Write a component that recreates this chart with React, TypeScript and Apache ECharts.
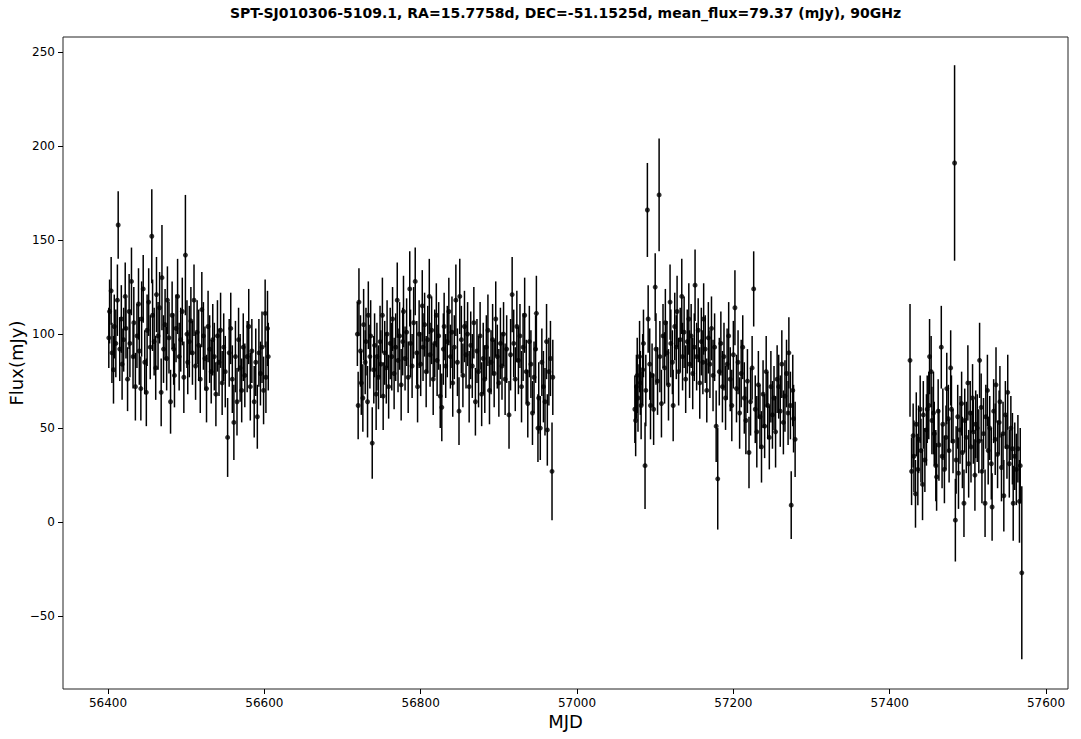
import React, { useEffect, useRef } from "react";
import * as echarts from "echarts";

// Season 1
const s1Mjd = [56401,56402,56404,56405,56407,56408,56410,56412,56413,56415,56417,56418,56420,56422,56423,56425,56427,56428,56430,56432,56433,56435,56437,56439,56440,56442,56443,56445,56447,56449,56450,56452,56454,56456,56457,56459,56461,56462,56464,56466,56468,56469,56471,56473,56475,56476,56478,56480,56482,56484,56485,56487,56489,56491,56493,56495,56497,56499,56501,56502,56504,56506,56508,56510,56512,56514,56516,56518,56520,56522,56524,56526,56528,56530,56532,56534,56536,56538,56540,56542,56544,56546,56548,56550,56553,56555,56557,56559,56561,56563,56565,56567,56569,56571,56573,56575,56578,56580,56582,56584,56587,56589,56591,56593,56595,56597,56599,56601,56602,56604,56605];
const s1Flux = [98,112,123,90,81,104,95,118,158,92,108,84,97,120,103,76,112,95,128,88,106,72,99,116,91,71,108,124,85,69,102,117,93,152,110,96,82,121,99,114,69,130,92,105,87,118,98,64,110,92,78,103,120,88,97,112,77,142,100,85,96,107,90,118,83,101,94,76,113,99,87,71,104,92,80,97,88,68,99,85,102,74,93,80,45,90,103,76,53,88,64,97,82,70,93,78,88,104,72,91,64,85,56,90,79,93,70,111,77,103,88];
const s1Err = [16,17,18,16,18,17,18,19,18,17,18,19,17,18,16,17,20,18,18,17,19,18,17,19,18,17,20,18,17,18,19,18,17,25,19,18,17,20,18,19,18,28,18,19,17,18,19,17,18,19,17,18,20,18,17,18,19,32,18,17,19,18,17,19,18,17,19,18,20,18,17,18,19,18,17,19,18,17,19,18,20,17,18,19,21,18,19,18,20,19,18,17,18,17,18,17,19,20,18,17,19,18,17,18,17,19,18,18,19,20,18];

// Season 2
const s2Mjd = [56719,56720,56721,56723,56724,56726,56727,56729,56730,56732,56733,56735,56736,56738,56740,56741,56743,56744,56746,56748,56749,56751,56752,56754,56756,56757,56759,56761,56763,56764,56766,56768,56770,56771,56773,56775,56777,56778,56780,56782,56784,56786,56787,56789,56791,56793,56795,56796,56798,56800,56802,56803,56805,56807,56809,56811,56812,56814,56816,56818,56820,56821,56823,56825,56827,56829,56830,56832,56834,56836,56838,56840,56841,56843,56845,56847,56849,56850,56852,56854,56856,56858,56860,56862,56864,56866,56868,56870,56872,56874,56876,56878,56880,56882,56884,56886,56888,56890,56892,56894,56896,56898,56900,56902,56904,56906,56908,56910,56913,56915,56917,56919,56921,56923,56925,56927,56929,56931,56933,56935,56937,56939,56941,56943,56945,56947,56948,56950,56951,56953,56955,56957,56959,56961,56962,56964,56966,56968,56969];
const s2Flux = [100,62,117,91,74,66,105,85,96,64,110,88,99,42,81,94,68,88,77,96,84,110,67,90,82,100,72,95,88,108,79,93,118,86,99,73,96,112,87,101,77,124,95,83,106,128,90,72,100,84,115,93,105,80,97,120,89,102,76,95,110,86,99,67,61,92,104,83,96,112,88,101,74,93,118,85,59,120,97,78,104,89,100,72,94,83,106,64,91,80,99,68,87,76,93,102,70,85,97,79,108,88,74,95,83,100,76,92,57,89,121,95,76,104,86,99,72,93,110,80,63,96,84,58,77,92,111,50,66,50,85,72,64,96,49,80,87,27,77];
const s2Err = [17,18,18,19,17,18,19,17,18,19,18,17,19,19,18,17,19,18,17,19,18,20,18,17,19,18,17,19,18,17,19,18,20,17,18,19,18,19,17,18,19,20,18,17,19,18,17,19,18,17,19,18,17,19,18,20,17,18,19,18,17,19,18,17,18,19,18,17,19,18,17,19,18,17,19,18,18,20,18,17,19,18,17,19,18,17,19,18,17,19,18,17,19,18,17,19,18,17,19,18,20,17,18,19,18,17,19,18,18,19,20,18,17,19,18,17,19,18,20,17,18,19,18,17,19,18,20,18,19,17,18,19,18,20,19,18,20,26,20];

// Season 3
const s3Mjd = [57074,57075,57076,57077,57078,57080,57081,57082,57084,57085,57087,57088,57090,57091,57093,57094,57096,57098,57100,57101,57103,57105,57106,57108,57110,57112,57113,57115,57117,57119,57120,57122,57123,57125,57127,57128,57130,57132,57134,57135,57137,57139,57141,57143,57144,57146,57148,57150,57151,57153,57155,57157,57159,57161,57162,57164,57166,57168,57170,57172,57174,57176,57178,57180,57182,57184,57186,57188,57190,57192,57194,57196,57198,57200,57202,57204,57206,57208,57210,57212,57214,57216,57218,57220,57222,57224,57226,57228,57230,57232,57234,57236,57238,57240,57242,57244,57246,57248,57250,57252,57254,57256,57258,57260,57262,57264,57266,57268,57270,57271,57273,57274,57276,57277,57279];
const s3Flux = [60,54,72,78,66,88,74,62,81,95,30,70,166,108,84,62,78,60,125,92,75,174,88,63,99,82,106,90,73,117,95,85,62,104,93,112,80,97,120,88,101,76,96,108,84,99,79,93,126,88,102,74,96,85,108,92,70,98,84,103,78,93,51,23,80,95,72,88,66,84,99,76,62,89,114,71,85,58,79,93,66,54,75,37,64,82,124,60,48,73,56,40,68,51,80,62,45,72,57,66,48,76,72,59,84,53,67,79,58,90,62,9,70,55,44];
const s3Err = [18,19,17,20,18,19,17,18,19,18,23,19,25,18,19,18,17,19,18,19,18,30,19,18,17,19,18,17,19,20,18,17,19,18,17,19,18,17,20,18,19,18,17,19,18,17,19,18,19,18,17,19,18,17,19,18,17,19,18,17,19,18,19,27,18,17,19,18,17,19,18,17,19,18,20,18,17,19,18,17,19,18,17,19,18,17,20,18,19,18,17,19,18,17,19,18,17,19,18,17,19,18,17,19,18,17,19,18,17,19,18,18,19,18,20];

// Season 4
const s4Mjd = [57426,57428,57430,57431,57433,57434,57436,57437,57439,57440,57442,57443,57445,57447,57448,57450,57451,57453,57454,57456,57457,57459,57460,57462,57463,57466,57467,57468,57470,57472,57473,57475,57476,57478,57479,57481,57483,57484,57485,57487,57488,57490,57492,57493,57495,57496,57498,57500,57501,57503,57504,57506,57507,57509,57510,57512,57514,57515,57517,57518,57520,57522,57523,57525,57526,57528,57530,57531,57533,57535,57536,57538,57540,57541,57543,57545,57546,57548,57550,57551,57553,57555,57557,57558,57560,57562,57564,57566,57567,57569];
const s4Flux = [86,27,46,35,15,52,28,44,60,38,20,57,33,49,60,62,88,80,54,58,47,30,24,59,41,93,35,52,28,45,71,55,38,82,60,43,191,1,33,56,26,49,63,37,10,54,45,74,31,58,40,66,48,25,52,50,43,86,61,27,47,10,56,70,38,50,31,8,59,44,73,36,53,64,29,47,14,57,40,69,31,50,39,10,35,28,39,11,30,-27];
const s4Err = [30,18,17,19,18,17,19,18,18,17,19,18,17,19,18,18,20,19,18,22,17,19,18,17,19,22,17,19,18,17,19,18,17,20,18,17,52,22,18,17,19,18,17,19,18,17,19,20,18,17,19,18,17,19,18,18,17,20,18,17,19,18,17,19,18,17,19,18,17,19,20,18,17,19,18,17,19,18,17,20,18,17,19,20,18,19,18,22,20,46];

const xTicks = [56400, 56600, 56800, 57000, 57200, 57400, 57600];
const yTicks = [-50, 0, 50, 100, 150, 200, 250];

const titleText = "SPT-SJ010306-5109.1, RA=15.7758d, DEC=-51.1525d, mean_flux=79.37 (mJy), 90GHz";

export default function App() {
  const ref = useRef<HTMLDivElement>(null);
  useEffect(() => {
    if (!ref.current) return;
    const chart = echarts.init(ref.current, null, { renderer: "svg" });
    const mjd = [...s1Mjd, ...s2Mjd, ...s3Mjd, ...s4Mjd];
    const flux = [...s1Flux, ...s2Flux, ...s3Flux, ...s4Flux];
    const err = [...s1Err, ...s2Err, ...s3Err, ...s4Err];
    const data = mjd.map((m, i) => [m, flux[i], err[i]]);
    const font = "DejaVu Sans";
    const fmt = (v: number) => String(v).replace("-", "\u2212");
    chart.setOption({
      animation: false,
      backgroundColor: "#fff",
      grid: {
        left: 63, right: 13, top: 37, bottom: 50,
        show: true, borderColor: "#222", borderWidth: 1, backgroundColor: "transparent",
      },
      xAxis: {
        type: "value", min: 56342.4, max: 57628.1,
        splitLine: { show: false },
        axisLine: { show: false, onZero: false },
        axisTick: { show: true, length: 5, lineStyle: { color: "#000", width: 1 }, customValues: xTicks },
        axisLabel: { color: "#000", fontFamily: font, fontSize: 12, margin: 8, customValues: xTicks, formatter: fmt },
      },
      yAxis: {
        type: "value", min: -88.8, max: 258,
        splitLine: { show: false },
        axisLine: { show: false, onZero: false },
        axisTick: { show: true, length: 5, lineStyle: { color: "#000", width: 1 }, customValues: yTicks },
        axisLabel: { color: "#000", fontFamily: font, fontSize: 12, margin: 8, customValues: yTicks, formatter: fmt },
      },
      graphic: [
        { type: "text", x: 565.5, y: 13, style: { text: titleText, fontFamily: font, fontWeight: "bold", fontSize: 14, fill: "#000", textAlign: "center", textVerticalAlign: "middle" } },
        { type: "text", x: 565.5, y: 721, style: { text: "MJD", fontFamily: font, fontSize: 18, fill: "#000", textAlign: "center", textVerticalAlign: "middle" } },
        { type: "text", x: 16, y: 363, rotation: Math.PI / 2, style: { text: "Flux(mJy)", fontFamily: font, fontSize: 18, fill: "#000", textAlign: "center", textVerticalAlign: "middle" } },
      ],
      series: [
        {
          type: "custom",
          data,
          encode: { x: 0, y: 1 },
          renderItem: (params: any, api: any) => {
            const x = api.value(0), y = api.value(1), e = api.value(2);
            const p1 = api.coord([x, y - e]);
            const p2 = api.coord([x, y + e]);
            return {
              type: "line",
              shape: { x1: p1[0], y1: p1[1], x2: p2[0], y2: p2[1] },
              style: { stroke: "#000", lineWidth: 1.5 },
            };
          },
          silent: true,
        },
        {
          type: "scatter",
          data: data.map((d) => [d[0], d[1]]),
          symbol: "circle",
          symbolSize: 5,
          itemStyle: { color: "#000" },
          silent: true,
        },
      ],
    });
    return () => chart.dispose();
  }, []);
  return <div ref={ref} style={{ position: "absolute", left: 0, top: 0, width: 1081, height: 739 }} />;
}
